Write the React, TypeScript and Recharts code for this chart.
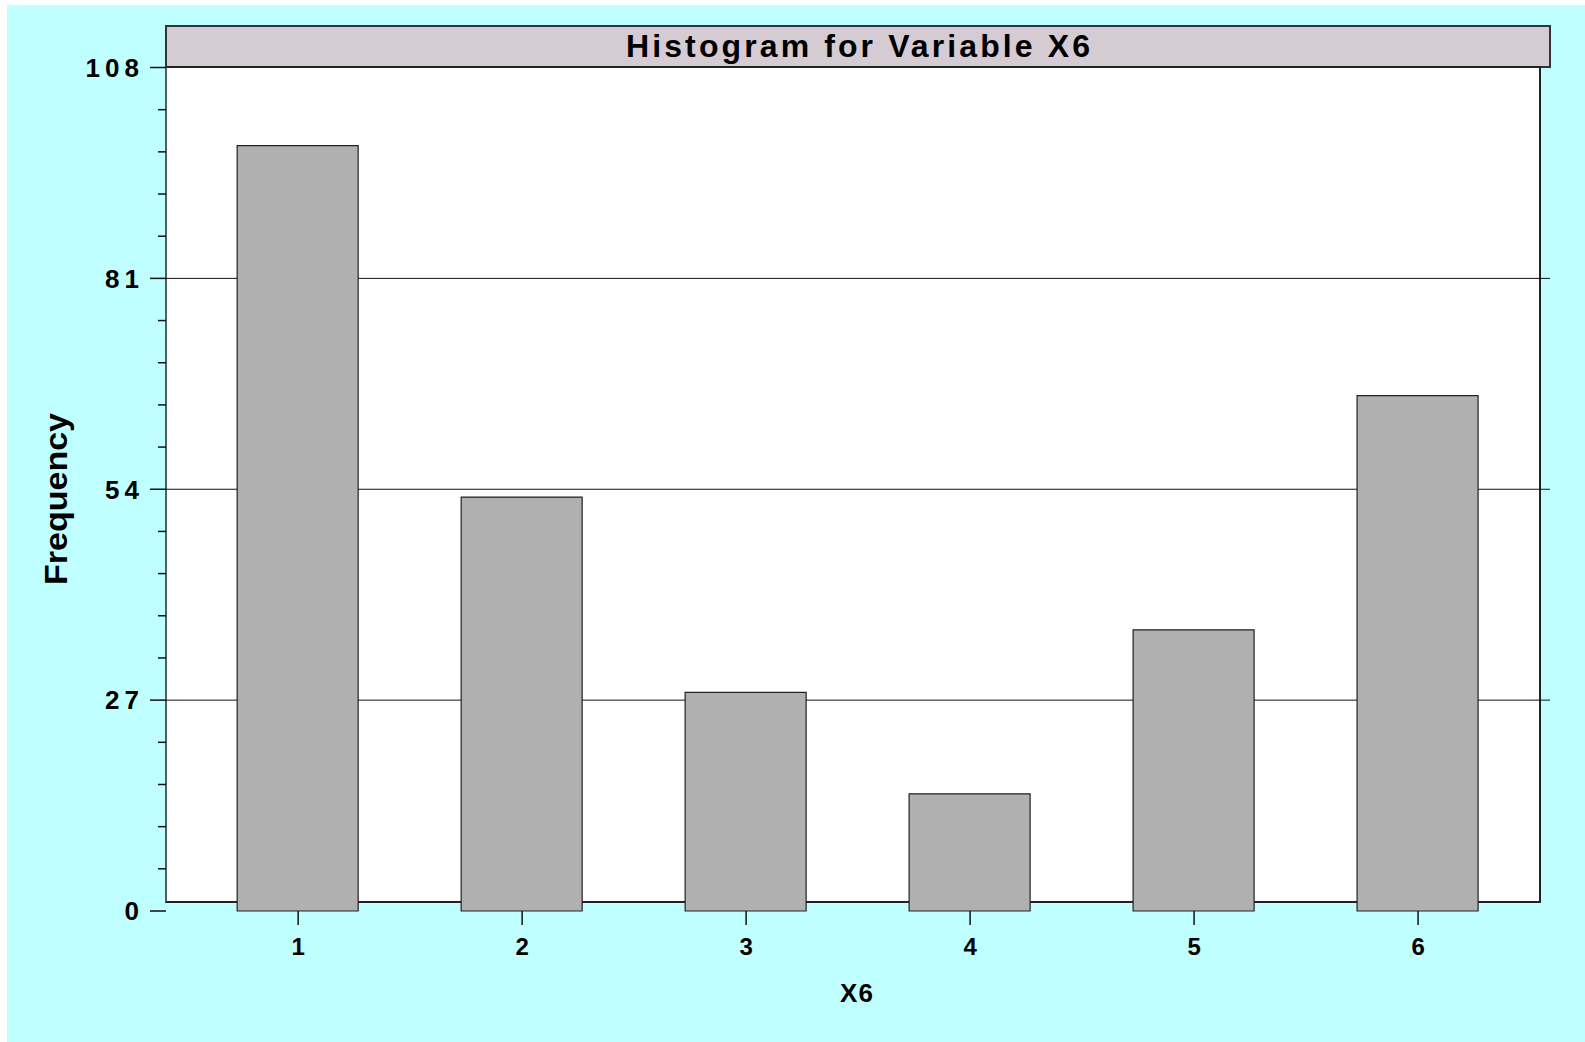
import React from 'react';
import { BarChart, Bar, XAxis, YAxis, CartesianGrid } from 'recharts';

// X6 categories and their counts
const X6_VALUES = [1, 2, 3, 4, 5, 6];
const FREQUENCIES = [98, 53, 28, 15, 36, 66];
const MAJOR_TICKS = [0, 27, 54, 81, 108];
const GRID_VALUES = [27, 54, 81];
const Y_TICKS = Array.from({ length: 21 }, (_, i) => +(i * 5.4).toFixed(1));

const FONT = '"Liberation Sans", Arial, sans-serif';

const data = X6_VALUES.map((x, i) => ({ x, freq: FREQUENCIES[i] }));

const YTick = ({ x, y, payload }: { x?: number; y?: number; payload?: { value: number } }) => {
  const v = payload?.value ?? 0;
  const major = MAJOR_TICKS.includes(v);
  return (
    <g>
      <line x1={x! - (major ? 16 : 8)} x2={x} y1={y} y2={y} stroke="#111" strokeWidth={1.5} />
      {major && (
        <text
          x={x! - 22}
          y={y}
          dy="0.36em"
          textAnchor="end"
          fontFamily={FONT}
          fontWeight="bold"
          fontSize={26}
          letterSpacing={5}
          fill="#000"
        >
          {v}
        </text>
      )}
    </g>
  );
};

const XTick = ({ x, y, payload }: { x?: number; y?: number; payload?: { value: number } }) => (
  <g>
    <line x1={x} x2={x} y1={y} y2={y! + 14} stroke="#111" strokeWidth={1.5} />
    <text
      x={x}
      y={y! + 44}
      textAnchor="middle"
      fontFamily={FONT}
      fontWeight="bold"
      fontSize={24}
      fill="#000"
    >
      {payload?.value}
    </text>
  </g>
);

export default function App() {
  return (
    <div style={{ position: 'absolute', left: 0, top: 0, width: 1585, height: 1042, background: '#fff' }}>
      <div style={{ position: 'absolute', left: 7, top: 5, width: 1578, height: 1037, background: '#C0FFFF' }} />
      {/* title band */}
      <div
        style={{
          position: 'absolute',
          left: 165,
          top: 25,
          width: 1386,
          height: 43,
          boxSizing: 'border-box',
          border: '2px solid #333',
          background: '#D5CBD3',
        }}
      />
      {/* plot frame */}
      <div
        style={{
          position: 'absolute',
          left: 165,
          top: 66,
          width: 1376,
          height: 837,
          boxSizing: 'border-box',
          border: '2px solid #222',
          borderLeftColor: '#4F5F5F',
          background: '#fff',
        }}
      />
      <svg
        width={1585}
        height={1042}
        style={{ position: 'absolute', left: 0, top: 0 }}
      >
        <text
          x={858}
          y={57}
          textAnchor="middle"
          fontFamily={FONT}
          fontWeight="bold"
          fontSize={32}
          textLength={464}
          lengthAdjust="spacing"
          fill="#000"
        >
          Histogram for Variable X6
        </text>
        <text
          x={857}
          y={1002}
          textAnchor="middle"
          fontFamily={FONT}
          fontWeight="bold"
          fontSize={26}
          letterSpacing={1}
          fill="#000"
        >
          X6
        </text>
        <text
          transform="translate(67,499) rotate(-90)"
          textAnchor="middle"
          fontFamily={FONT}
          fontWeight="bold"
          fontSize={31}
          textLength={172}
          lengthAdjust="spacingAndGlyphs"
          fill="#000"
        >
          Frequency
        </text>
      </svg>
      <div style={{ position: 'absolute', left: 0, top: 0 }}>
        <BarChart
          width={1585}
          height={1042}
          data={data}
          margin={{ top: 67.5, right: 35, bottom: 91, left: 86 }}
        >
          <CartesianGrid
            horizontal
            vertical={false}
            horizontalValues={GRID_VALUES}
            stroke="#111"
            strokeWidth={1}
          />
          <XAxis
            dataKey="x"
            type="number"
            domain={[0.41, 6.589]}
            ticks={X6_VALUES}
            interval={0}
            height={40}
            axisLine={false}
            tickLine={false}
            tickSize={0}
            tickMargin={0}
            tick={<XTick />}
          />
          <YAxis
            type="number"
            domain={[0, 108]}
            ticks={Y_TICKS}
            interval={0}
            width={80}
            axisLine={false}
            tickLine={false}
            tickSize={0}
            tickMargin={0}
            tick={<YTick />}
          />
          <Bar
            dataKey="freq"
            fill="#B0B0B0"
            stroke="#222"
            strokeWidth={1.2}
            barSize={121}
            isAnimationActive={false}
          />
        </BarChart>
      </div>
    </div>
  );
}
